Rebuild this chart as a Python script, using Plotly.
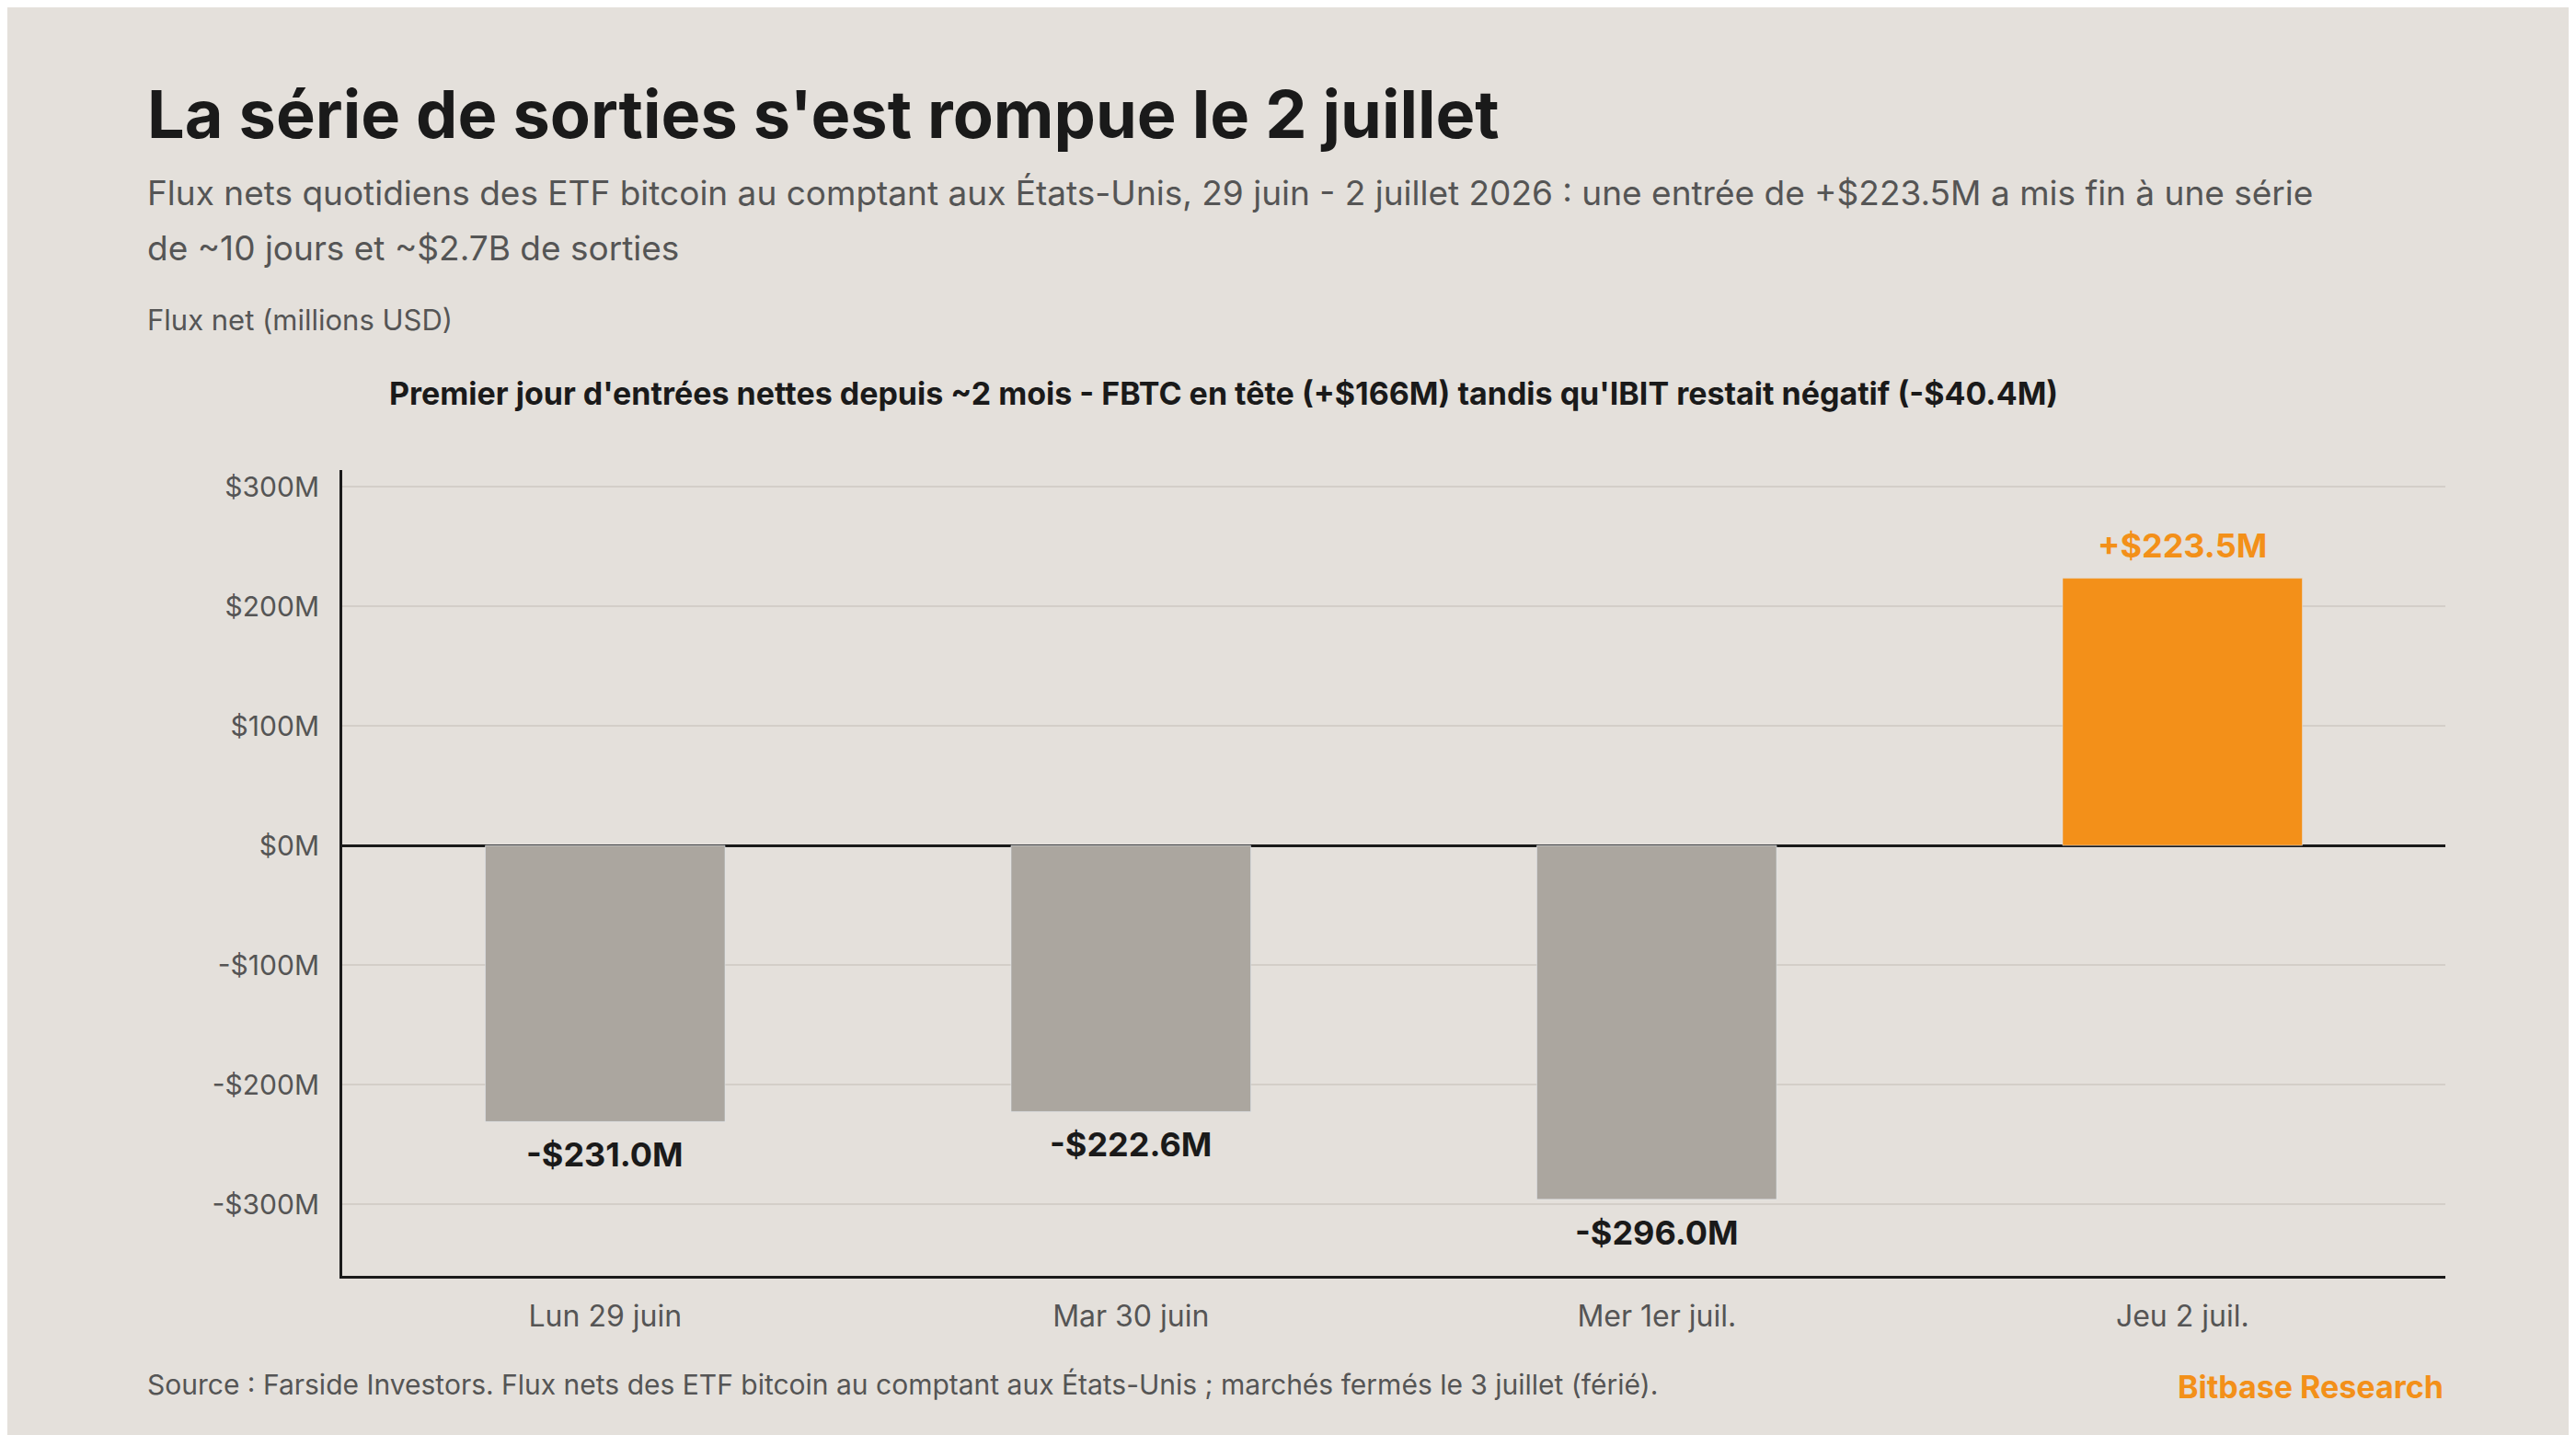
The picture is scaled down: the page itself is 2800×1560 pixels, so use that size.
import plotly.graph_objects as go

days = ["Lun 29 juin", "Mar 30 juin", "Mer 1er juil.", "Jeu 2 juil."]
flows = [-231.0, -222.6, -296.0, 223.5]
labels = ["-$231.0M", "-$222.6M", "-$296.0M", "+$223.5M"]
tick_vals = [-300, -200, -100, 0, 100, 200, 300]
tick_text = ["-$300M", "-$200M", "-$100M", "$0M", "$100M", "$200M", "$300M"]

F = "Inter, Lato, sans-serif"
fig = go.Figure(go.Bar(
    x=days, y=flows, width=0.456,
    marker_color=["#f39019" if v > 0 else "#aba69f" for v in flows],
))

# value labels with a bit of gap from the bar ends
for d, v, t in zip(days, flows, labels):
    fig.add_annotation(x=d, y=v, text=f"<b>{t}</b>", showarrow=False,
                       yanchor="bottom" if v > 0 else "top", yshift=12 if v > 0 else -12,
                       font=dict(family=F, size=36, color="#f39019" if v > 0 else "#1a1a1a"))

fig.update_layout(
    width=2800, height=1560,
    paper_bgcolor="#e4e0db", plot_bgcolor="#e4e0db",
    margin=dict(l=364, r=150, t=503, b=181),
    showlegend=False, font=dict(family=F, color="#555"),
)
fig.update_yaxes(range=[-360, 314], tickvals=tick_vals, ticktext=tick_text,
                 tickfont=dict(size=30, color="#555"), gridcolor="#d3cec8", gridwidth=2,
                 zeroline=True, zerolinecolor="#1a1a1a", zerolinewidth=3,
                 showline=True, linecolor="#1a1a1a", linewidth=3, ticks="", ticklabelstandoff=16)
fig.update_xaxes(tickfont=dict(size=32, color="#555"), showline=True, linecolor="#1a1a1a",
                 linewidth=3, ticks="", ticklabelstandoff=14)

def ann(text, x, y, size, color, bold=False, anchor="left"):
    fig.add_annotation(text=f"<b>{text}</b>" if bold else text, x=x, y=y, xref="paper", yref="paper",
                       xanchor=anchor, yanchor="middle", showarrow=False,
                       font=dict(family=F, size=size, color=color))

ann("La série de sorties s'est rompue le 2 juillet", -0.0936, 1.442, 72, "#1a1a1a", True)
ann("Flux nets quotidiens des ETF bitcoin au comptant aux États-Unis, 29 juin - 2 juillet 2026 : une entrée de +$223.5M a mis fin à une série",
    -0.0936, 1.344, 37, "#555")
ann("de ~10 jours et ~$2.7B de sorties", -0.0936, 1.276, 37, "#555")
ann("Flux net (millions USD)", -0.0936, 1.187, 31, "#555")
ann("Premier jour d'entrées nettes depuis ~2 mois - FBTC en tête (+$166M) tandis qu'IBIT restait négatif (-$40.4M)",
    0.419, 1.095, 34, "#1a1a1a", True, "center")
ann("Source : Farside Investors. Flux nets des ETF bitcoin au comptant aux États-Unis ; marchés fermés le 3 juillet (férié).",
    -0.0936, -0.135, 30, "#555")
ann("Bitbase Research", 1.0, -0.137, 34, "#f39019", True, "right")

fig.write_html("out.html")
